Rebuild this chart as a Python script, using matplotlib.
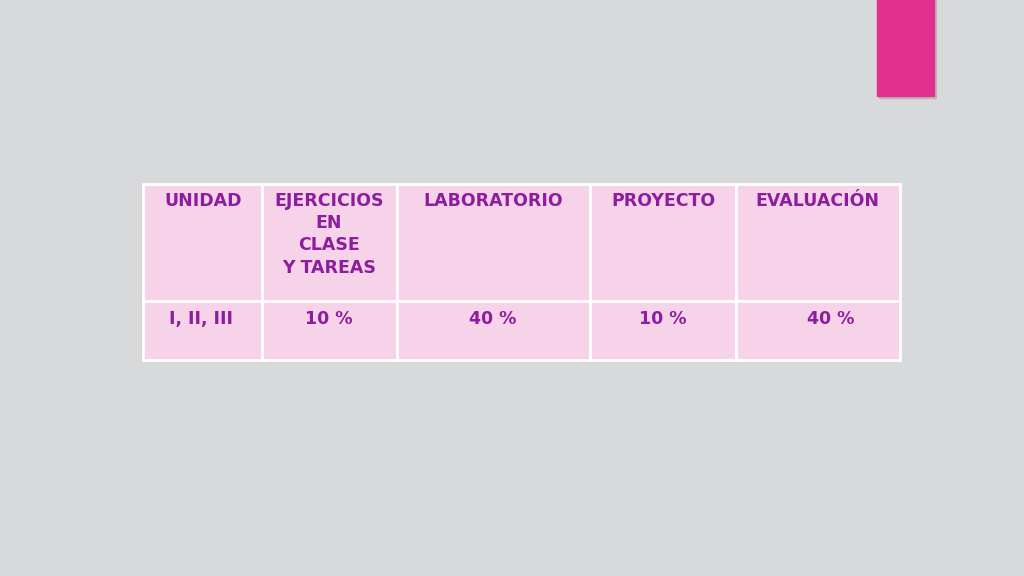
import matplotlib
matplotlib.use("Agg")
import matplotlib.pyplot as plt
from matplotlib.patches import Rectangle

headers = ["UNIDAD", "EJERCICIOS\nEN\nCLASE\nY TAREAS", "LABORATORIO", "PROYECTO", "EVALUACIÓN"]
row_values = ["I, II, III", "10 %", "40 %", "10 %", "40 %"]

col_edges = [143, 262, 397, 590, 736, 900]
row_edges = [184, 301, 360]
header_x = [203, 329, 493, 663, 817]
value_x = [201, 329, 493, 663, 831]

fig = plt.figure(figsize=(10.24, 5.76), dpi=100)
fig.patch.set_facecolor("#D8D9DB")
ax = fig.add_axes([0, 0, 1, 1])
ax.set_xlim(0, 1024); ax.set_ylim(576, 0); ax.axis("off")

# pink accent with shadow
ax.add_patch(Rectangle((879, 0), 57, 98, color="#B0A8AE", alpha=0.6))
ax.add_patch(Rectangle((877, 0), 57, 96, color="#E2308F"))

for r in range(2):
    for c in range(5):
        ax.add_patch(Rectangle((col_edges[c], row_edges[r]),
                               col_edges[c+1]-col_edges[c], row_edges[r+1]-row_edges[r],
                               facecolor="#F6D3E8", edgecolor="white", lw=2))

txt = dict(color="#8E1C9E", fontsize=12.5, fontweight="bold", family="DejaVu Sans")
for x, h in zip(header_x, headers):
    ax.text(x, 192, h, ha="center", va="top", linespacing=1.3, **txt)
for x, v in zip(value_x, row_values):
    ax.text(x, 310, v, ha="center", va="top", **txt)

fig.savefig("out.png", dpi=100, facecolor=fig.get_facecolor())
